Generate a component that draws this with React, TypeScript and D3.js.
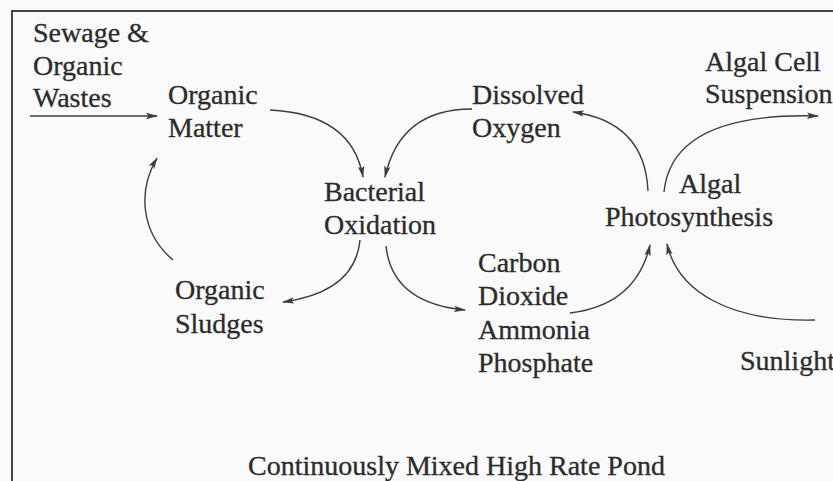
import React from "react";
import * as d3 from "d3";

// ---- Content (labels) ----
const sourceLabel = ["Sewage &", "Organic", "Wastes"];
const organicMatterLabel = ["Organic", "Matter"];
const bacterialLabel = ["Bacterial", "Oxidation"];
const dissolvedLabel = ["Dissolved", "Oxygen"];
const algalCellLabel = ["Algal Cell", "Suspension"];
const algalLabel = ["Algal"];
const photoLabel = ["Photosynthesis"];
const sludgeLabel = ["Organic", "Sludges"];
const nutrientLabel = ["Carbon", "Dioxide", "Ammonia", "Phosphate"];
const sunlightLabel = ["Sunlight"];
const titleLabel = ["Continuously Mixed High Rate Pond"];

// ---- Layout ----
const W = 833;
const H = 481;
const FONT = "'Liberation Serif', 'Times New Roman', serif";
const FS = 28;
const LH = 33;
const TEXT = "#2b2b2b";
const LINE = "#3c3c3c";

type Pt = [number, number];
const textBlocks: { lines: string[]; x: number; y: number; lh?: number }[] = [
  { lines: sourceLabel, x: 33, y: 42, lh: 32.5 },
  { lines: organicMatterLabel, x: 168, y: 104 },
  { lines: bacterialLabel, x: 324, y: 201 },
  { lines: dissolvedLabel, x: 472, y: 104 },
  { lines: algalCellLabel, x: 705, y: 71, lh: 32 },
  { lines: algalLabel, x: 679, y: 193 },
  { lines: photoLabel, x: 605, y: 226 },
  { lines: sludgeLabel, x: 175, y: 299, lh: 34 },
  { lines: nutrientLabel, x: 478, y: 272, lh: 33.3 },
  { lines: sunlightLabel, x: 740, y: 370 },
  { lines: titleLabel, x: 248, y: 475 },
];

// arrows: start, control(s), end
const arrows: Pt[][] = [
  [[30, 116], [157, 116]],
  [[270, 110], [352, 114], [363, 177]],
  [[472, 109], [400, 109], [385, 177]],
  [[648, 191], [645, 122], [573, 112]],
  [[664, 192], [672, 112], [818, 116]],
  [[570, 313], [636, 305], [650, 245]],
  [[815, 320], [730, 322], [678, 292], [667, 244]],
  [[360, 240], [355, 292], [283, 302]],
  [[386, 246], [392, 303], [465, 310]],
  [[173, 260], [140, 232], [138, 190], [157, 158]],
];

function arrowPath(pts: Pt[]): string {
  const p = d3.path();
  p.moveTo(pts[0][0], pts[0][1]);
  if (pts.length === 2) p.lineTo(pts[1][0], pts[1][1]);
  else if (pts.length === 3) p.quadraticCurveTo(pts[1][0], pts[1][1], pts[2][0], pts[2][1]);
  else p.bezierCurveTo(pts[1][0], pts[1][1], pts[2][0], pts[2][1], pts[3][0], pts[3][1]);
  return p.toString();
}

export default function App() {
  return (
    <svg
      width={W}
      height={H}
      style={{ position: "absolute", left: 0, top: 0, background: "#fafafa" }}
    >
      <defs>
        <marker
          id="ah"
          viewBox="0 0 12 8"
          refX="11"
          refY="4"
          markerWidth="12"
          markerHeight="8"
          markerUnits="userSpaceOnUse"
          orient="auto"
        >
          <path d="M0,0.8 L12,4 L0,7.2 L2.5,4 Z" fill={LINE} />
        </marker>
      </defs>
      <rect x={0} y={0} width={W} height={H} fill="#fafafa" />
      <path d={`M12,${H} L12,11 L${W},11`} fill="none" stroke="#444" strokeWidth={2} />
      {arrows.map((a, i) => (
        <path
          key={i}
          d={arrowPath(a)}
          fill="none"
          stroke={LINE}
          strokeWidth={1.4}
          markerEnd="url(#ah)"
        />
      ))}
      {textBlocks.map((b, i) => (
        <text
          key={i}
          fontFamily={FONT}
          fontSize={FS}
          fill={TEXT}
          stroke={TEXT}
          strokeWidth={0.3}
        >
          {b.lines.map((l, j) => (
            <tspan key={j} x={b.x} y={b.y + j * (b.lh ?? LH)}>
              {l}
            </tspan>
          ))}
        </text>
      ))}
    </svg>
  );
}
